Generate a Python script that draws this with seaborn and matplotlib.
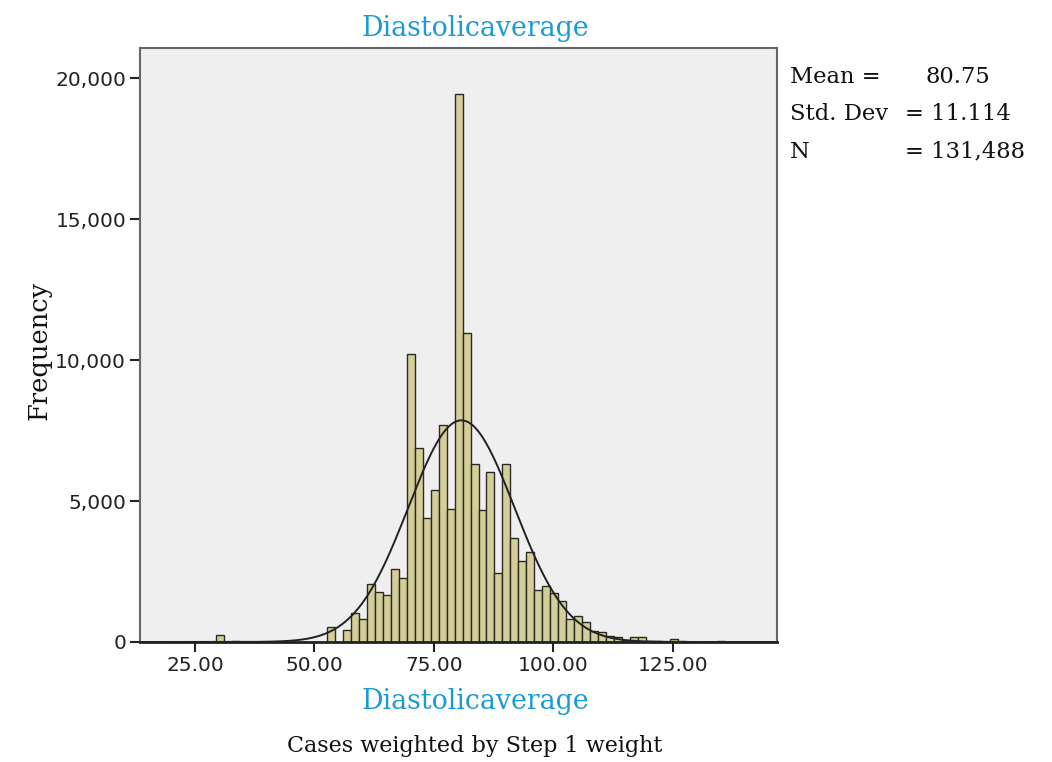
import numpy as np
import pandas as pd
import matplotlib
matplotlib.use("Agg")
import matplotlib.pyplot as plt
import seaborn as sns

# Weighted frequency per histogram bin (left edge of bin, bin width 5/3)
bin_left = [29.33, 32.67, 52.67, 56.00, 57.67, 59.33, 61.00, 62.67, 64.33, 66.00,
            67.67, 69.33, 71.00, 72.67, 74.33, 76.00, 77.67, 79.33, 81.00, 82.67,
            84.33, 86.00, 87.67, 89.33, 91.00, 92.67, 94.33, 96.00, 97.67, 99.33,
            101.00, 102.67, 104.33, 106.00, 107.67, 109.33, 111.00, 112.67, 114.33,
            116.00, 117.67, 119.33, 121.00, 122.67, 124.33, 126.00, 134.33]
frequency = [250, 20, 540, 430, 1040, 805, 2050, 1760, 1670, 2600,
             2260, 10220, 6870, 4390, 5390, 7700, 4710, 19450, 10980, 6300,
             4680, 6020, 2460, 6300, 3680, 2870, 3210, 1850, 1990, 1730,
             1460, 820, 935, 710, 380, 370, 210, 190, 70,
             165, 165, 25, 20, 15, 95, 20, 50]

mean_value = 80.75
std_dev = 11.114
n_cases = 131488

x_ticks = [25, 50, 75, 100, 125]
y_ticks = [0, 5000, 10000, 15000, 20000]

variable_name = "Diastolicaverage"
weight_note = "Cases weighted by Step 1 weight"

bin_width = 5 / 3
df = pd.DataFrame({"center": np.array(bin_left) + bin_width / 2, "freq": frequency})

sns.set_style("white")
plt.rcParams["font.family"] = ["DejaVu Sans"]

fig = plt.figure(figsize=(10.52, 7.62), dpi=100)
ax = fig.add_axes([0.1331, 0.1575, 0.6055, 0.7795])
ax.set_facecolor("#efefef")

sns.histplot(data=df, x="center", weights="freq", binwidth=bin_width,
             binrange=(88 / 3, 88 / 3 + 64 * bin_width), ax=ax,
             color="#d4cf97", edgecolor="#2a2a2a", linewidth=1.0, alpha=1.0)

# Normal curve scaled to counts per bin
xs = np.linspace(13, 147, 600)
ys = n_cases * bin_width / (std_dev * np.sqrt(2 * np.pi)) * np.exp(-0.5 * ((xs - mean_value) / std_dev) ** 2)
sns.lineplot(x=xs, y=ys, ax=ax, color="#222222", linewidth=1.4)

ax.set_xlim(13.5, 146.8)
ax.set_ylim(0, 21080)
ax.set_xticks(x_ticks)
ax.set_xticklabels([f"{v:.2f}" for v in x_ticks])
ax.set_yticks(y_ticks)
ax.set_yticklabels([f"{v:,}" for v in y_ticks])
ax.tick_params(axis="both", direction="out", length=7, width=1.5, color="#222222",
               labelsize=14.5, labelcolor="#222222", pad=3, left=True, bottom=True)

for side in ["top", "right", "left"]:
    ax.spines[side].set_color("#666666")
    ax.spines[side].set_linewidth(1.5)
ax.spines["bottom"].set_color("#222222")
ax.spines["bottom"].set_linewidth(2)

serif = ["DejaVu Serif"]
blue = "#1c9ad6"
ax.set_xlabel("")
ax.set_ylabel("")
fig.text(0.4515, 0.963, variable_name, color=blue, fontsize=19.3, family=serif,
         ha="center", va="center")
fig.text(0.4515, 0.079, variable_name, color=blue, fontsize=19.3, family=serif,
         ha="center", va="center")
fig.text(0.4515, 0.021, weight_note, color="#111111", fontsize=16, family=serif,
         ha="center", va="center")
fig.text(0.037, 0.54, "Frequency", color="#111111", fontsize=18.5, family=serif,
         ha="center", va="center", rotation=90)

# Summary statistics block
stat_kw = dict(color="#111111", fontsize=16.3, family=serif, va="center")
row_y = [0.899, 0.850, 0.801]
fig.text(0.751, row_y[0], "Mean =", ha="left", **stat_kw)
fig.text(0.880, row_y[0], f"{mean_value:.2f}", ha="left", **stat_kw)
fig.text(0.751, row_y[1], "Std. Dev", ha="left", **stat_kw)
fig.text(0.860, row_y[1], f"= {std_dev:.3f}", ha="left", **stat_kw)
fig.text(0.751, row_y[2], "N", ha="left", **stat_kw)
fig.text(0.860, row_y[2], f"= {n_cases:,}", ha="left", **stat_kw)

fig.savefig("out.png", dpi=100, facecolor="white")
